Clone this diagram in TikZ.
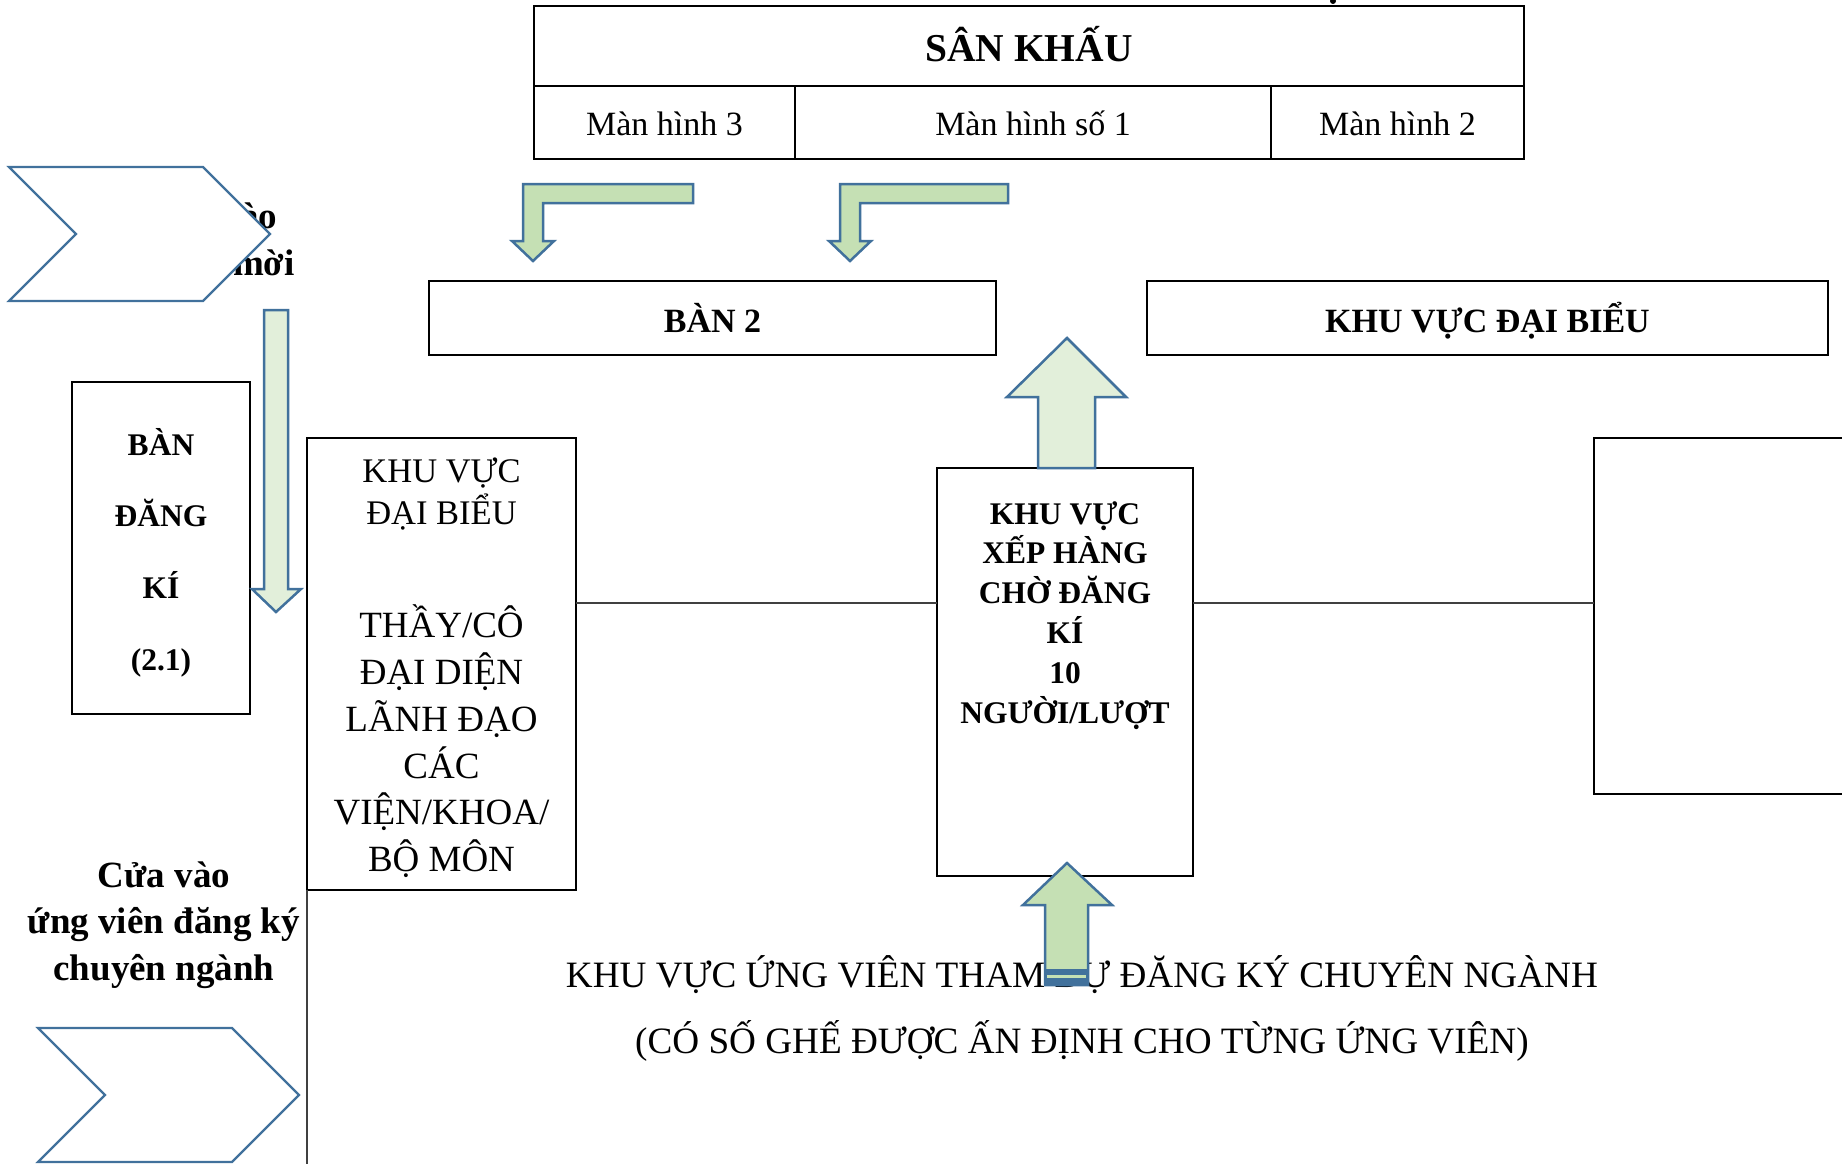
\documentclass[tikz,border=0pt]{standalone}
\usepackage{fontspec}
\setmainfont{Liberation Serif}
\definecolor{ol}{RGB}{65,113,156}
\definecolor{grn}{RGB}{197,224,180}
\definecolor{pale}{RGB}{226,239,218}
\definecolor{lin}{RGB}{64,64,64}
\tikzset{
  box/.style={draw=black, line width=1.3pt, inner sep=0pt, outer sep=0pt, anchor=north west},
  thickbox/.style={box, line width=2.2pt},
  txt/.style={inner sep=0pt, outer sep=0pt, align=center},
  arrg/.style={draw=ol, fill=grn, line width=2.5pt, line join=miter},
  arrp/.style={draw=ol, fill=pale, line width=2.5pt, line join=miter},
  chev/.style={draw=ol, fill=white, line width=2.2pt, line join=miter},
  conn/.style={draw=lin, line width=1.4pt},
}
\begin{document}
\begin{tikzpicture}[x=1pt,y=-1pt]
\useasboundingbox (0,0) rectangle (1842,1164);
\fill[white] (0,0) rectangle (1842,1164);

% hidden text behind top chevron
\node[txt, anchor=north, font=\bfseries\fontsize{37}{47}\selectfont] (guestT) at (211,188) {\rule{0pt}{1.1em}Cửa vào\\khách mời};
\draw[chev] (9,167) -- (203,167) -- (270,234) -- (203,301) -- (9,301) -- (76,234) -- cycle;

% stage
\node[thickbox, minimum width=990pt, minimum height=80pt, text height=32pt, text depth=0pt,
      font=\bfseries\fontsize{39.5}{46}\selectfont] (stage) at (534,6) {SÂN KHẤU};
\node[thickbox, minimum width=261pt, minimum height=73pt, text height=25pt, text depth=0pt,
      font=\fontsize{34}{40}\selectfont] (m3) at (534,86) {Màn hình 3};
\node[thickbox, minimum width=476pt, minimum height=73pt, text height=25pt, text depth=0pt,
      font=\fontsize{34}{40}\selectfont] (m1) at (795,86) {Màn hình số 1};
\node[thickbox, minimum width=253pt, minimum height=73pt, text height=25pt, text depth=0pt,
      font=\fontsize{34}{40}\selectfont] (m2) at (1271,86) {Màn hình 2};

% bent arrows
\draw[arrg] (523,184) -- (693,184) -- (693,203) -- (543,203) -- (543,241) -- (554,241) -- (533,261) -- (512,241) -- (523,241) -- cycle;
\draw[arrg] (840,184) -- (1008,184) -- (1008,203) -- (860,203) -- (860,241) -- (871,241) -- (850,261) -- (829,241) -- (840,241) -- cycle;

% row of tables
\node[thickbox, minimum width=567pt, minimum height=74pt, text height=28pt, text depth=0pt,
      font=\bfseries\fontsize{34}{40}\selectfont] (ban2) at (429,281) {BÀN 2};
\node[thickbox, minimum width=681pt, minimum height=74pt, text height=28pt, text depth=0pt,
      font=\bfseries\fontsize{34}{40}\selectfont] (kvdb) at (1147,281) {KHU VỰC ĐẠI BIỂU};

% registration desk
\node[box, minimum width=178pt, minimum height=332pt] (desk) at (72,382) {};
\node[txt, anchor=north, font=\bfseries\fontsize{31.5}{71.8}\selectfont] (deskT) at (desk.north |- 0,420.5)
  {\rule{0pt}{1.1em}BÀN\\ĐĂNG\\KÍ\\(2.1)};

% down arrow
\draw[arrp] (264,310) -- (288,310) -- (288,589) -- (301,589) -- (276,612) -- (252,589) -- (264,589) -- cycle;

% left delegates box
\node[box, minimum width=269pt, minimum height=452pt] (lbox) at (307,438) {};
\node[txt, anchor=north, font=\fontsize{34.5}{42.5}\selectfont] (lboxA) at (lbox.north |- 0,444.3)
  {\rule{0pt}{1.1em}KHU VỰC\\ĐẠI BIỂU};
\node[txt, anchor=north, font=\fontsize{37}{46.8}\selectfont] (lboxB) at (lbox.north |- 0,597)
  {\rule{0pt}{1.1em}THẦY/CÔ\\ĐẠI DIỆN\\LÃNH ĐẠO\\CÁC\\VIỆN/KHOA/\\BỘ MÔN};

% queue box
\node[box, minimum width=256pt, minimum height=408pt] (queue) at (937,468) {};
\node[txt, anchor=north, font=\bfseries\fontsize{31.5}{39.8}\selectfont] (queueT) at (queue.north |- 0,489.4)
  {\rule{0pt}{1.1em}KHU VỰC\\XẾP HÀNG\\CHỜ ĐĂNG\\KÍ\\10\\NGƯỜI/LƯỢT};

% right box
\node[box, minimum width=270pt, minimum height=356pt] (rbox) at (1594,438) {};

% connecting lines
\coordinate (hl) at (0,603);
\coordinate (bot) at (0,1170);
\draw[conn] (lbox.east |- hl) -- (queue.west |- hl);
\draw[conn] (queue.east |- hl) -- (rbox.west |- hl);
\draw[conn] (lbox.south west) -- (lbox.south west |- bot);

% up arrow into table row
\draw[arrp] (1038,468) -- (1038,397) -- (1007,397) -- (1067,338) -- (1126,397) -- (1095,397) -- (1095,468) -- cycle;

% candidate entrance
\node[txt, anchor=north, font=\bfseries\fontsize{37}{46.5}\selectfont] (candT) at (164,846.3)
  {\rule{0pt}{1.1em}Cửa vào\\ứng viên đăng ký\\chuyên ngành};
\draw[chev] (38,1028) -- (232,1028) -- (299,1095) -- (232,1162) -- (38,1162) -- (105,1095) -- cycle;

% candidate area text
\node[txt, anchor=north, font=\fontsize{37.2}{66}\selectfont] (areaT) at (1082,946.3)
  {\rule{0pt}{1.1em}KHU VỰC ỨNG VIÊN THAM DỰ ĐĂNG KÝ CHUYÊN NGÀNH\\(CÓ SỐ GHẾ ĐƯỢC ẤN ĐỊNH CHO TỪNG ỨNG VIÊN)};

% bottom up arrow
\draw[arrg] (1045,985) -- (1045,905) -- (1023,905) -- (1067,863) -- (1112,905) -- (1088,905) -- (1088,985) -- cycle;
\fill[ol] (1044,969) rectangle (1089,986);
\fill[grn] (1047,974.5) rectangle (1086,978);

% fragment at top edge
\fill (1333,1) circle (3);
\end{tikzpicture}
\end{document}
